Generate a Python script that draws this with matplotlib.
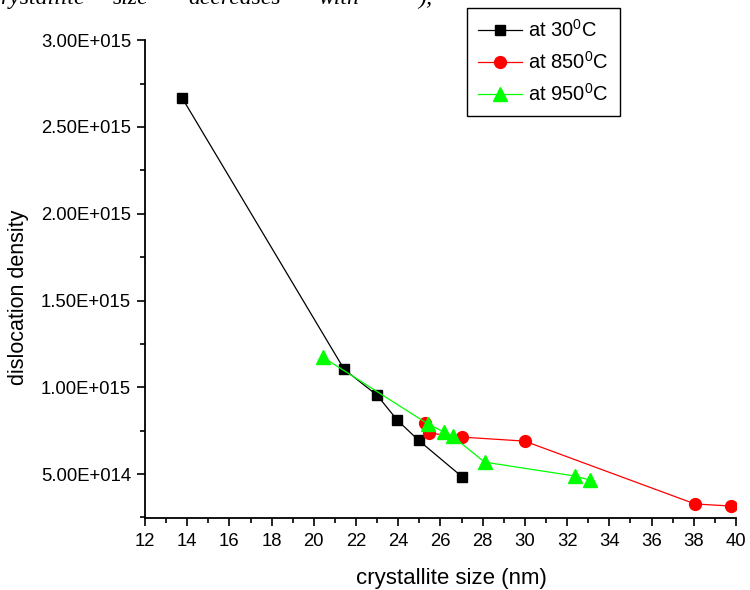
import matplotlib
matplotlib.use("Agg")
import matplotlib.pyplot as plt
from matplotlib.ticker import FuncFormatter, MultipleLocator

plt.rcParams['font.family'] = ['Liberation Sans', 'DejaVu Sans']
plt.rcParams['mathtext.fontset'] = 'custom'
plt.rcParams['mathtext.rm'] = 'Liberation Sans'

# data
size_30 = [13.76, 21.44, 23.0, 23.96, 24.96, 27.04]
dens_30 = [2.667e15, 1.103e15, 9.54e14, 8.1e14, 6.95e14, 4.83e14]

size_850 = [25.29, 25.48, 27.04, 29.99, 38.06, 39.77]
dens_850 = [7.93e14, 7.36e14, 7.13e14, 6.9e14, 3.28e14, 3.16e14]

size_950 = [20.45, 25.43, 26.19, 26.57, 28.09, 32.36, 33.07]
dens_950 = [1.172e15, 7.87e14, 7.41e14, 7.18e14, 5.69e14, 4.89e14, 4.66e14]

# bits of the document text cut off above the chart
top_words = ["rystallite", "size", "decreases", "with", ");"]
top_word_x = [0, 113, 188, 318, 418]


def sci_fmt(v, pos):
    if v == 0:
        return "0"
    e = 0
    m = abs(v)
    while m >= 10:
        m /= 10
        e += 1
    while m < 1:
        m *= 10
        e -= 1
    sign = "+" if e >= 0 else "-"
    return "%.2fE%s%03d" % (v / 10 ** e, sign, abs(e))


fig = plt.figure(figsize=(7.5, 5.9), dpi=100)
ax = fig.add_axes([0.1933, 0.122, 0.788, 0.810])

ax.plot(size_30, dens_30, color='black', lw=0.9, marker='s', ms=7.5,
        mfc='black', mec='black', label=r"at 30$^{\mathrm{0}}$C")
ax.plot(size_850, dens_850, color='red', lw=0.9, marker='o', ms=8.5,
        mfc='red', mec='red', label=r"at 850$^{\mathrm{0}}$C")
ax.plot(size_950, dens_950, color='#00ff00', lw=0.9, marker='^', ms=9.5,
        mfc='#00ff00', mec='#00ff00', label=r"at 950$^{\mathrm{0}}$C")

ax.set_xlim(12, 40)
ax.set_ylim(2.47e14, 3.0e15)
ax.xaxis.set_major_locator(MultipleLocator(2))
ax.xaxis.set_minor_locator(MultipleLocator(1))
ax.yaxis.set_major_locator(MultipleLocator(5e14))
ax.yaxis.set_minor_locator(MultipleLocator(2.5e14))
ax.yaxis.set_major_formatter(FuncFormatter(sci_fmt))

for side in ['top', 'right']:
    ax.spines[side].set_visible(False)
for side in ['left', 'bottom']:
    ax.spines[side].set_linewidth(1.3)

ax.tick_params(which='major', direction='out', length=6, width=1.2, labelsize=13.3)
ax.tick_params(which='minor', direction='out', length=3.5, width=1.2)
ax.tick_params(axis='x', pad=5)
ax.tick_params(axis='y', pad=4)

ax.set_xlabel("crystallite size (nm)", fontsize=16)
ax.set_ylabel("dislocation density", fontsize=15.5)
ax.xaxis.set_label_coords(0.518, -0.104)
ax.yaxis.set_label_coords(-0.196, 0.462)

leg = fig.legend(loc='upper left', bbox_to_anchor=(467 / 750, 1 - 8 / 590),
                 fontsize=14.5, frameon=True, fancybox=False, framealpha=1,
                 edgecolor='black', handlelength=2.2, handletextpad=0.3,
                 borderpad=0.55, labelspacing=0.5, borderaxespad=0)
leg.get_frame().set_linewidth(1.0)

for w, xp in zip(top_words, top_word_x):
    fig.text(xp / 750, 1 - 4 / 590, w, fontsize=17, style='italic',
             family='Liberation Serif', va='baseline', ha='left')

fig.savefig("out.png", dpi=100)
